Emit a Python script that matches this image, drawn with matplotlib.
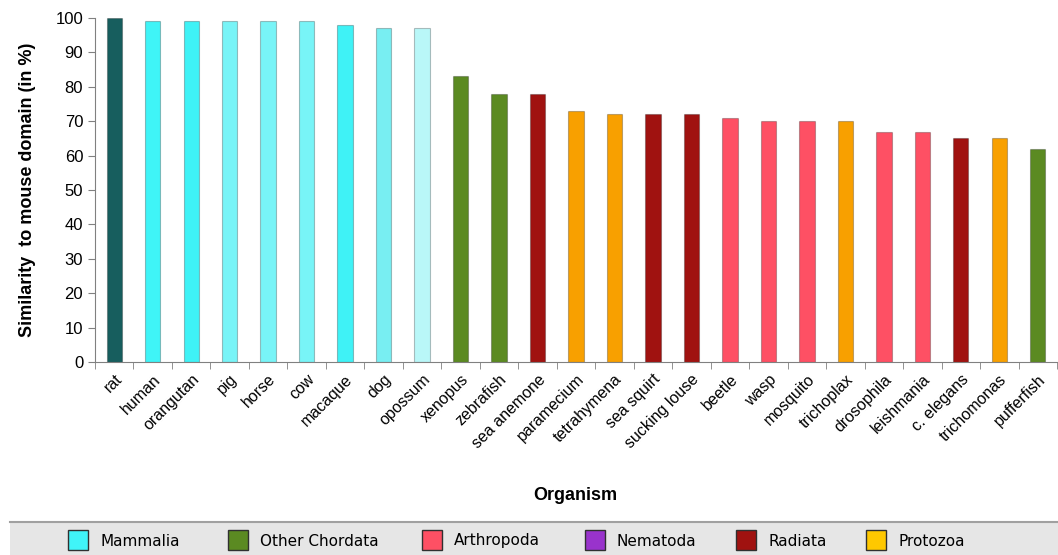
import matplotlib.pyplot as plt
from matplotlib.patches import Rectangle

plt.rcParams['font.family'] = ['Liberation Sans', 'DejaVu Sans']

# organisms, similarity scores and group colours
organisms = ["rat", "human", "orangutan", "pig", "horse", "cow", "macaque", "dog", "opossum",
             "xenopus", "zebrafish", "sea anemone", "paramecium", "tetrahymena", "sea squirt",
             "sucking louse", "beetle", "wasp", "mosquito", "trichoplax", "drosophila",
             "leishmania", "c. elegans", "trichomonas", "pufferfish"]
similarity = [100, 99, 99, 99, 99, 99, 98, 97, 97, 83, 78, 78, 73, 72, 72, 72, 71, 70, 70, 70,
              67, 67, 65, 65, 62]
bar_colors = ["#175e5e", "#3ff4f7", "#3ff2f6", "#78f4f7", "#78f4f7", "#78f4f7", "#3ff2f6",
              "#78eef2", "#b9f7f8", "#5b8a22", "#5b8a22", "#a01210", "#f8a000", "#f8a000",
              "#a01210", "#a01210", "#fe5064", "#fe5064", "#fe5064", "#f8a000", "#fe5064",
              "#fe5064", "#a01210", "#f8a000", "#5b8a22"]

groups = ["Mammalia", "Other Chordata", "Arthropoda", "Nematoda", "Radiata", "Protozoa"]
group_colors = ["#40f4f8", "#5b8a22", "#fe5064", "#9933cc", "#a01210", "#ffc800"]

fig = plt.figure(figsize=(10.58, 5.55), dpi=100)
ax = fig.add_axes([95 / 1058, 193 / 555, 962 / 1058, 344 / 555])

x = range(len(organisms))
ax.bar(x, similarity, width=0.4, color=bar_colors, edgecolor="#00000040", linewidth=0.8)

ax.set_xlim(-0.5, len(organisms) - 0.5)
ax.set_ylim(0, 100)
ax.set_yticks(range(0, 101, 10))
ax.set_xticks(list(x))
ax.set_xticklabels(organisms, rotation=45, ha="right", rotation_mode="anchor", fontsize=11.5)
ax.set_xticks([i + 0.5 for i in range(-1, len(organisms))], minor=True)
ax.tick_params(axis="x", which="major", length=0, pad=7)
ax.tick_params(axis="x", which="minor", length=5, color="#808080")
ax.tick_params(axis="y", length=5, color="#808080", labelsize=12)

for side in ["top", "right"]:
    ax.spines[side].set_visible(False)
ax.spines["left"].set_color("#808080")
ax.spines["bottom"].set_color("#808080")

ax.set_ylabel("Similarity  to mouse domain (in %)", fontsize=13, fontweight="bold", labelpad=14)
fig.text(575 / 1058, 1 - 495 / 555, "Organism", fontsize=13, fontweight="bold",
         ha="center", va="center")

# legend strip along the bottom
fig.patches.append(Rectangle((10 / 1058, 0), 1048 / 1058, 33 / 555, transform=fig.transFigure,
                             facecolor="#e6e6e6", edgecolor="none"))
fig.lines.append(plt.Line2D([10 / 1058, 1], [33 / 555, 33 / 555], transform=fig.transFigure,
                            color="#a0a0a0", linewidth=1.5))
box_x = [68, 228, 422, 585, 736, 866]
for bx, name, col in zip(box_x, groups, group_colors):
    fig.patches.append(Rectangle((bx / 1058, 5 / 555), 20 / 1058, 20 / 555,
                                 transform=fig.transFigure, facecolor=col,
                                 edgecolor="#303030", linewidth=1))
    fig.text((bx + 32) / 1058, 14 / 555, name, fontsize=11, ha="left", va="center",
             family="DejaVu Sans")

fig.savefig("out.png", dpi=100)
